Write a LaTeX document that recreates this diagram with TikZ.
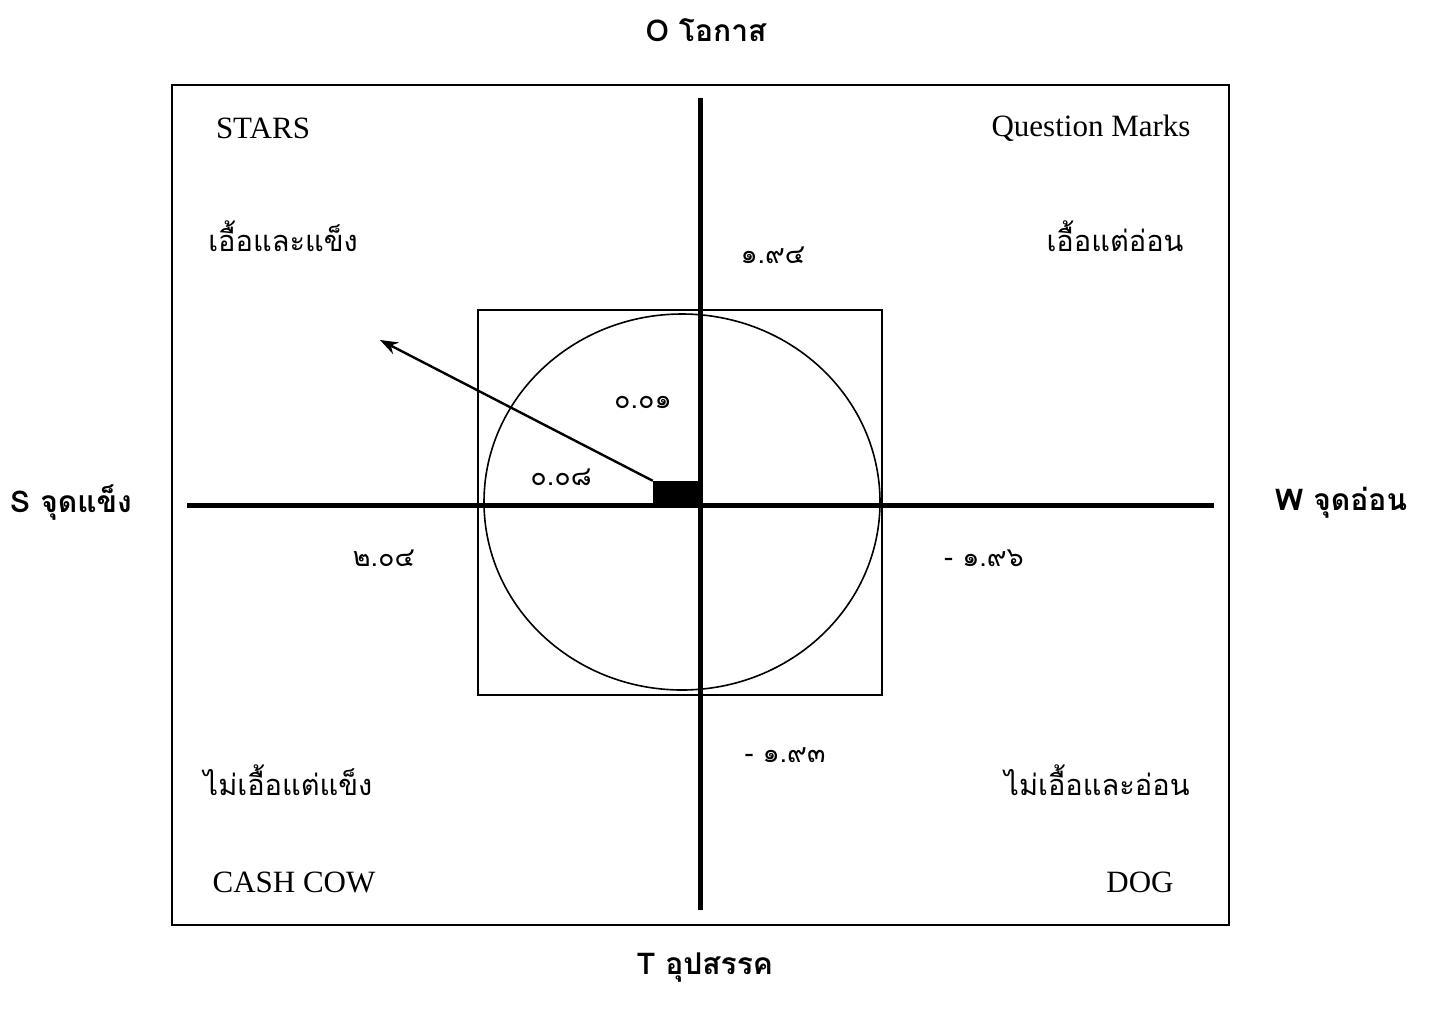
\documentclass[tikz,border=0pt]{standalone}
\usepackage{fontspec}
\usepackage{tikz}
\usetikzlibrary{arrows.meta}
\setmainfont{Liberation Serif}
\newfontfamily\thaifont[Script=Thai]{Loma}

\begin{document}
\begin{tikzpicture}[x=1pt,y=-1pt,
	axis/.style={line width=5pt},
	frame/.style={line width=1.6pt},
	enlabel/.style={font=\fontsize{31}{36}\selectfont},
	thlabel/.style={font=\thaifont\fontsize{29}{36}\selectfont},
	numlabel/.style={font=\thaifont\fontsize{27}{32}\selectfont},
	sidelabel/.style={font=\thaifont\bfseries\fontsize{30}{36}\selectfont}]

	\useasboundingbox (0,0) rectangle (1433,1010);

	\coordinate (top) at (700,98);
	\coordinate (bottom) at (700,910);
	\coordinate (left) at (187,505);
	\coordinate (right) at (1214,505);
	\coordinate (tip) at (380,340);

	\draw[frame] (172,85) rectangle (1229,925);
	\draw[line width=1.3pt] (478,310) rectangle (882,695);
	\draw[line width=1.6pt] (682,502) ellipse (198 and 188);

	\draw[axis] (top) -- (bottom);
	\draw[axis] (left) -- (right);

	\node[fill=black, minimum width=47pt, minimum height=23pt, inner sep=0pt] (box) at (676.5,492.5) {};
	\draw[line width=2.4pt, -{Stealth[length=18pt,width=13pt]}] (box.north west) -- (tip);

	\node[enlabel] (stars) at (263,128) {STARS};
	\node[enlabel] (qm) at (1091,128) {Question Marks};
	\node[enlabel] (cow) at (294,882) {CASH COW};
	\node[enlabel] (dog) at (1140,882) {DOG};

	\node[thlabel] (so) at (283,236) {เอื้อและแข็ง};
	\node[thlabel] (wo) at (1115,236) {เอื้อแต่อ่อน};
	\node[thlabel] (st) at (288,780) {ไม่เอื้อแต่แข็ง};
	\node[thlabel] (wt) at (1097,780) {ไม่เอื้อและอ่อน};

	\node[numlabel] (n1) at (773,255) {๑.๙๔};
	\node[numlabel] (n2) at (643,402) {๐.๐๑};
	\node[numlabel] (n3) at (561,477) {๐.๐๘};
	\node[numlabel] (n4) at (384,558) {๒.๐๔};
	\node[numlabel] (n5) at (984,558) {- ๑.๙๖};
	\node[numlabel] (n6) at (785,755) {- ๑.๙๓};

	\node[sidelabel] (o) at (706,30) {O โอกาส};
	\node[sidelabel] (s) at (71,503) {S จุดแข็ง};
	\node[sidelabel] (w) at (1341,503) {W จุดอ่อน};
	\node[sidelabel] (t) at (705,968) {T อุปสรรค};

\end{tikzpicture}
\end{document}
